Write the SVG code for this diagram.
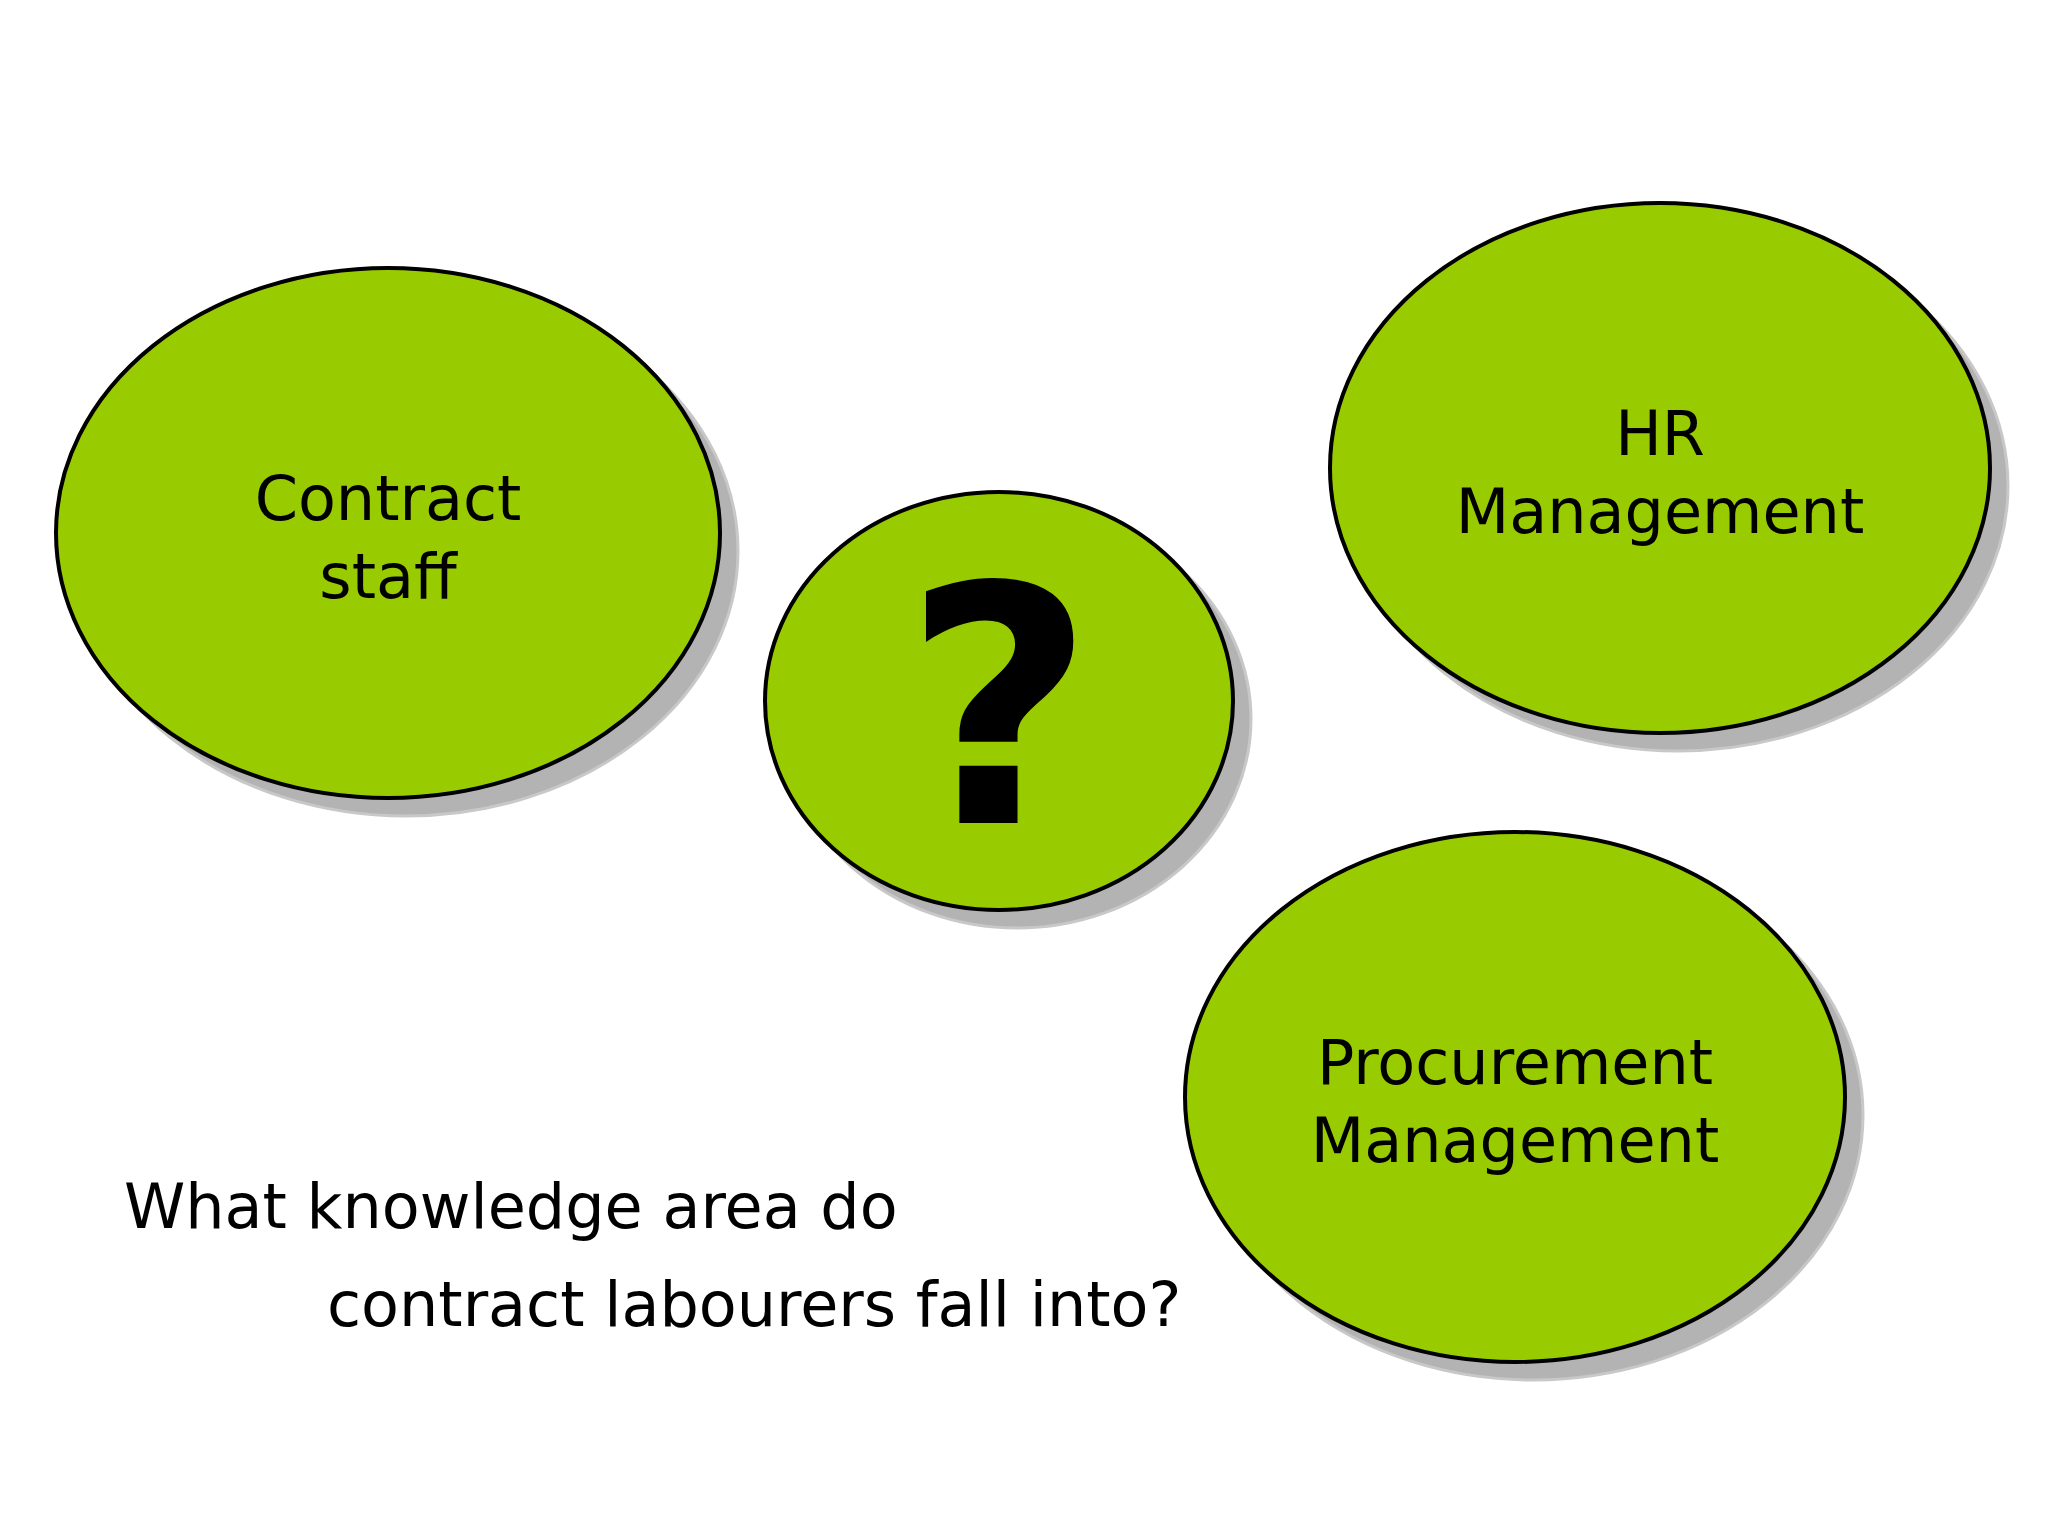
<svg xmlns="http://www.w3.org/2000/svg" width="2048" height="1536" viewBox="0 0 2048 1536">
<style>
.sh{fill:#b3b3b3;stroke:#c8c8c8;stroke-width:3}
.el{fill:#99cc00;stroke:#000;stroke-width:4}
.t{font-family:"DejaVu Sans",sans-serif;font-size:62px;fill:#000;text-anchor:middle}
.q{font-family:"DejaVu Sans",sans-serif;font-size:62px;fill:#000}
</style>
<rect width="2048" height="1536" fill="#fff"/>
<g id="contract">
<ellipse class="sh" cx="406" cy="551" rx="332" ry="265"/>
<ellipse class="el" cx="388" cy="533" rx="332" ry="265"/>
<text class="t" x="388" y="520">Contract</text>
<text class="t" x="388" y="598">staff</text>
</g>
<g id="question">
<ellipse class="sh" cx="1017" cy="719" rx="234" ry="209"/>
<ellipse class="el" cx="999" cy="701" rx="234" ry="209"/>
<text class="t" x="999" y="823" style="font-size:330px;font-weight:bold">?</text>
</g>
<g id="hr">
<ellipse class="sh" cx="1678" cy="486" rx="330" ry="265"/>
<ellipse class="el" cx="1660" cy="468" rx="330" ry="265"/>
<text class="t" x="1660" y="455">HR</text>
<text class="t" x="1660" y="533">Management</text>
</g>
<g id="procurement">
<ellipse class="sh" cx="1533" cy="1115" rx="330" ry="265"/>
<ellipse class="el" cx="1515" cy="1097" rx="330" ry="265"/>
<text class="t" x="1515" y="1084">Procurement</text>
<text class="t" x="1515" y="1162">Management</text>
</g>
<g id="caption">
<text class="q" x="124" y="1228">What knowledge area do</text>
<text class="q" x="327" y="1326">contract labourers fall into?</text>
</g>
<g id="connectors"/>
</svg>
